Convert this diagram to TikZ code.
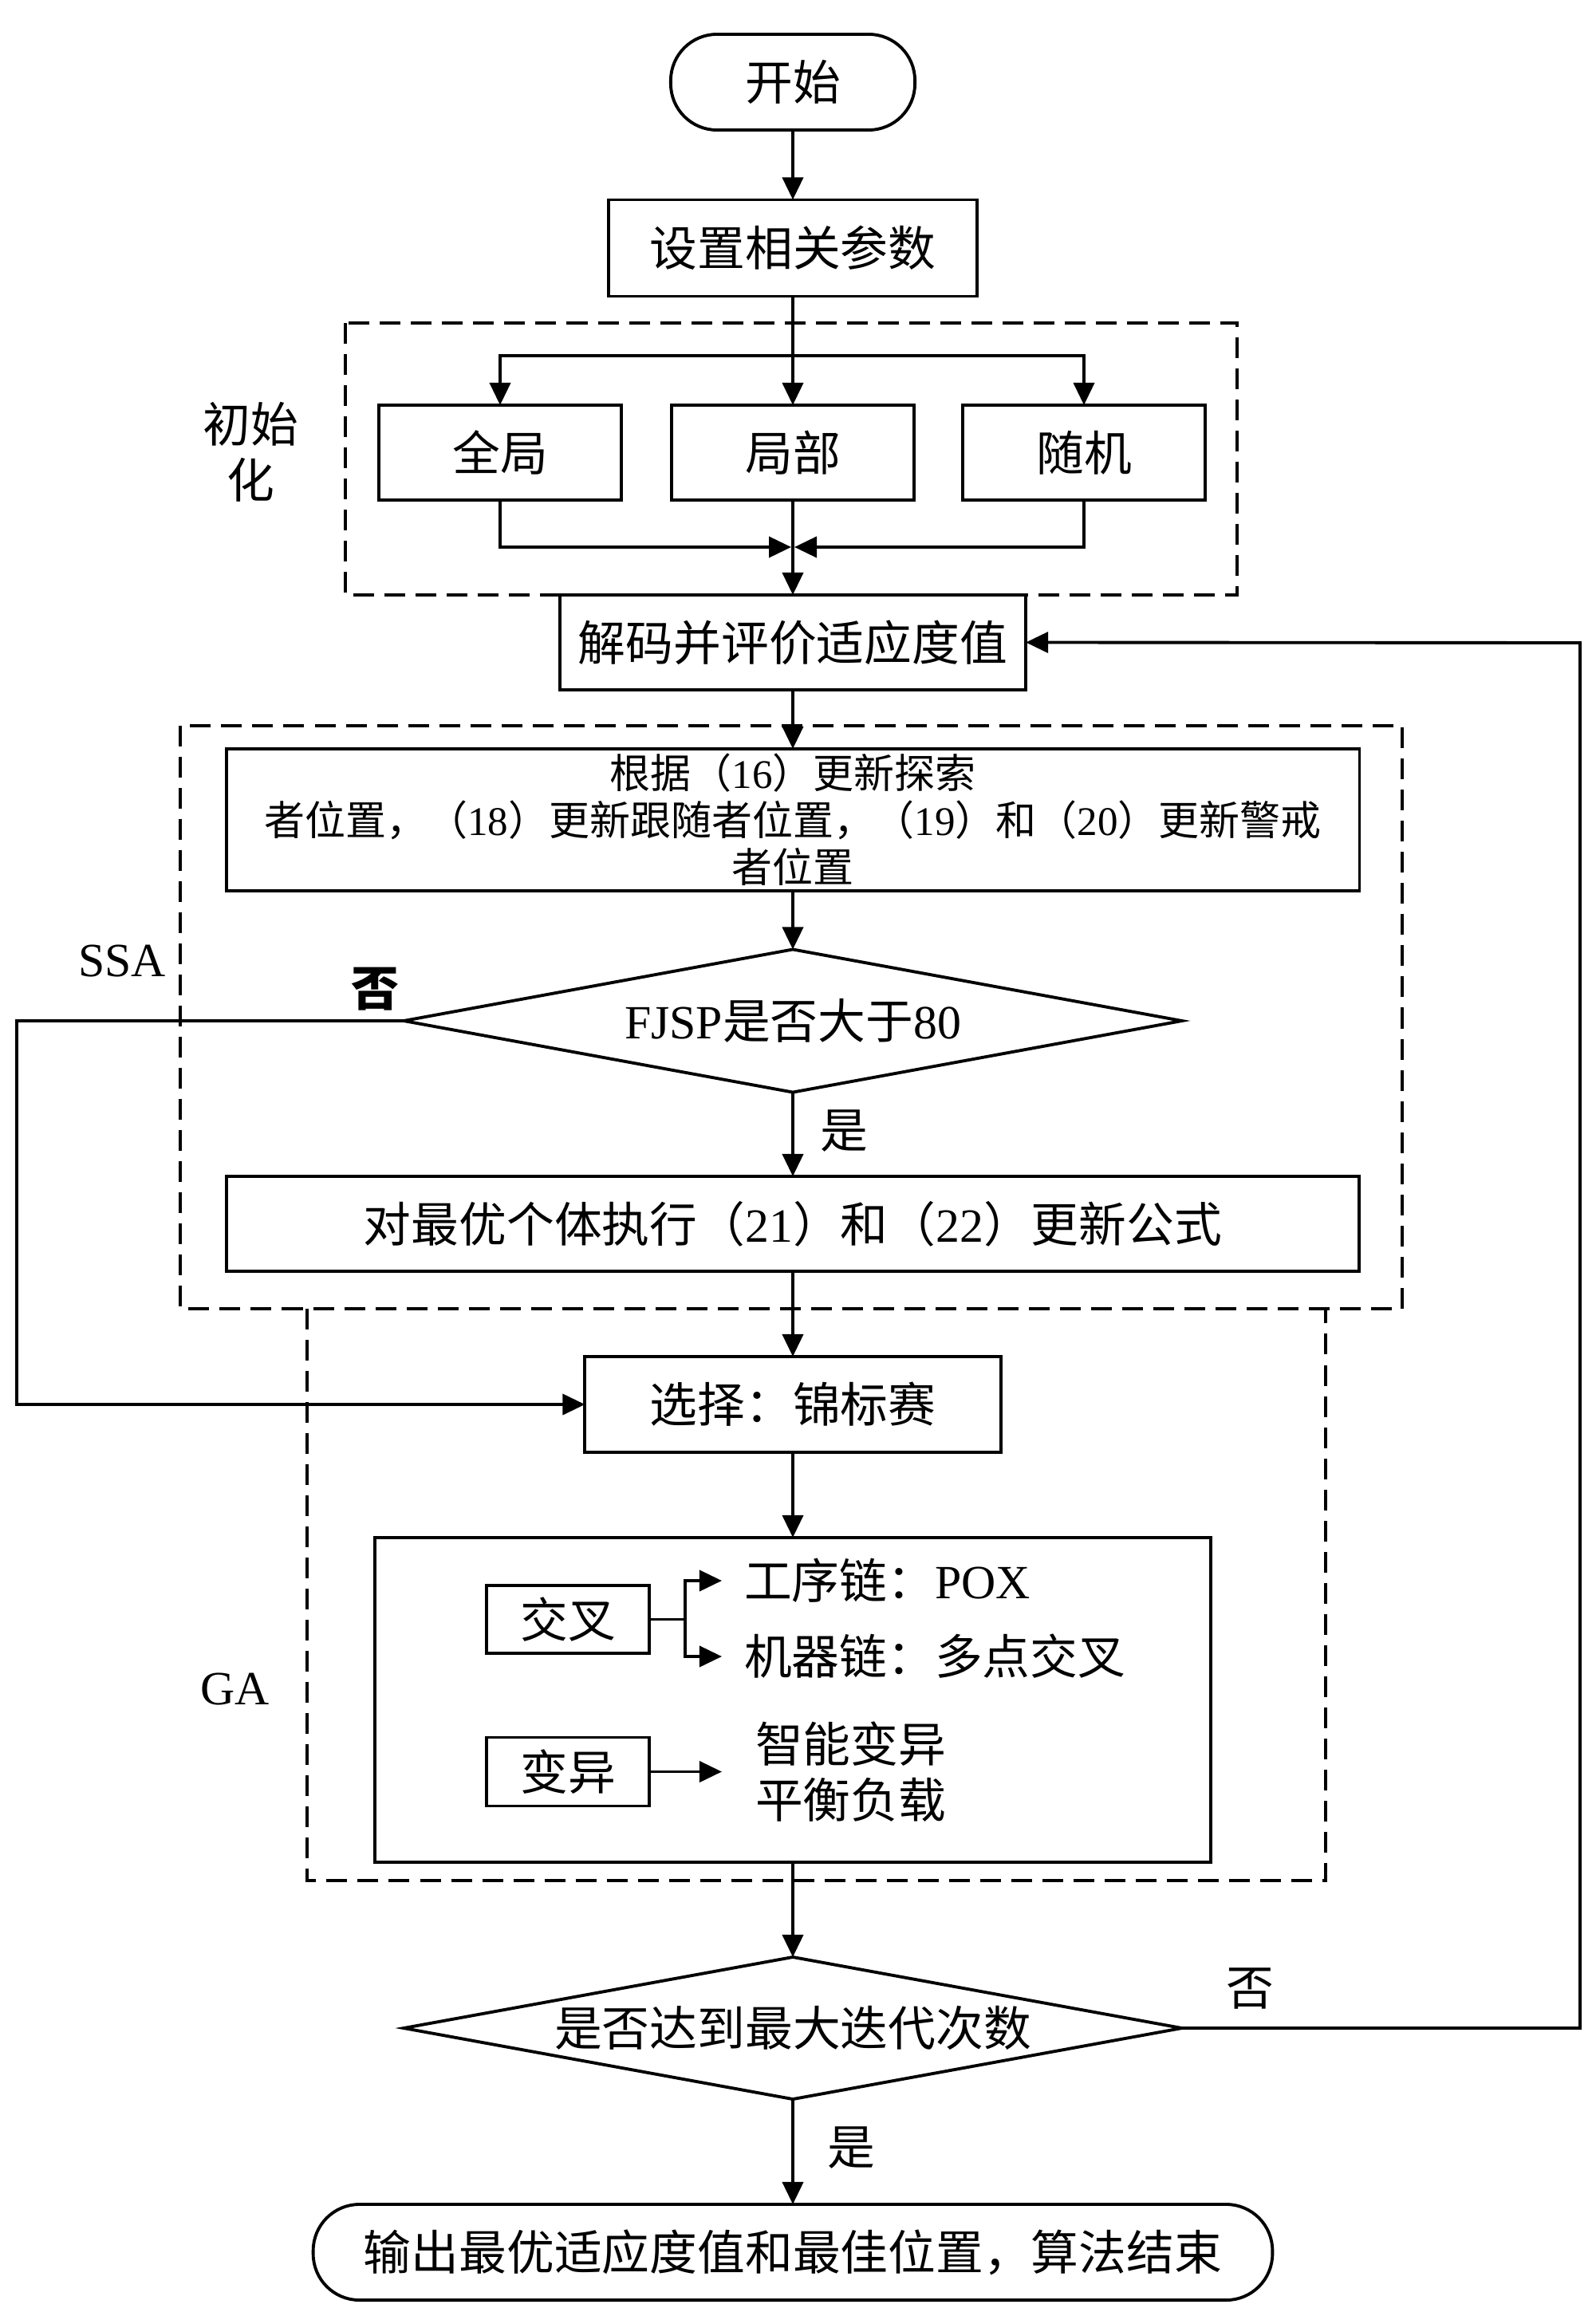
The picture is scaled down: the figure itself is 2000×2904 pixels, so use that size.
\documentclass[tikz,border=0pt]{standalone}
\usepackage{fontspec}
\setmainfont{Noto Sans CJK SC}
\newfontfamily\lat{Liberation Serif}
\usetikzlibrary{arrows.meta,shapes.geometric}
\begin{document}
\begin{tikzpicture}[x=0.01cm,y=-0.01cm,
  every node/.style={font=\fontsize{17pt}{19.9pt}\selectfont, inner sep=0pt, outer sep=0pt},
  box/.style={draw, line width=1.1pt, rectangle, fill=white},
  term/.style={box, rounded corners=0.58cm},
  dia/.style={draw, line width=1.1pt, diamond, shape aspect=5.45, fill=white},
  arr/.style={line width=1.1pt, -{Triangle[length=0.28cm,width=0.26cm]}},
  ln/.style={line width=1.1pt},
  grp/.style={line width=1pt, dash pattern=on 0.26cm off 0.13cm},
  lbl/.style={},
]
\useasboundingbox (0,0) rectangle (2000,2904);

% groups
\draw[grp] (433,405) rectangle (1551,746);
\draw[grp] (226,910) rectangle (1758,1641);
\draw[grp] (385,1641) -- (385,2358) -- (1662,2358) -- (1662,1641);

% nodes
\node[term, minimum width=3.06cm, minimum height=1.2cm] (start) at (994,103) {开始};
\node[box, minimum width=4.62cm, minimum height=1.21cm] (set) at (994,311) {设置相关参数};
\node[lbl, align=center] (initlbl) at (314,567) {初始\\化};
\node[box, minimum width=3.04cm, minimum height=1.19cm] (quan) at (627,567.5) {全局};
\node[box, minimum width=3.04cm, minimum height=1.19cm] (jubu) at (994,567.5) {局部};
\node[box, minimum width=3.04cm, minimum height=1.19cm] (suiji) at (1359,567.5) {随机};
\node[box, minimum width=5.84cm, minimum height=1.19cm] (jiema) at (994,805.5) {解码并评价适应度值};

\node[lbl] (ssalbl) at (153,1205) {\lat SSA};
\node[box, minimum width=14.2cm, minimum height=1.78cm, align=center,
      font=\fontsize{14.5pt}{16.8pt}\selectfont] (genju) at (994,1028)
  {根据（{\lat 16}）更新探索\\者位置，（{\lat 18}）更新跟随者位置，（{\lat 19}）和（{\lat 20}）更新警戒\\者位置};
\node[dia, minimum width=9.75cm, minimum height=1.79cm] (d1) at (994,1280) {{\lat FJSP}是否大于{\lat 80}};
\node[lbl] (no1) at (470,1240) {\bfseries 否};
\node[lbl] (yes1) at (1058,1418) {是};
\node[box, minimum width=14.19cm, minimum height=1.19cm] (duizuiyou) at (994,1534.5)
  {对最优个体执行（{\lat 21}）和（{\lat 22}）更新公式};

\node[lbl] (galbl) at (295,2118) {\lat GA};
\node[box, minimum width=5.21cm, minimum height=1.2cm] (xuanze) at (994,1761) {选择：锦标赛};
\node[box, minimum width=10.48cm, minimum height=4.07cm] (big) at (994,2131.5) {};
\node[box, minimum width=2.04cm, minimum height=0.85cm] (jiaocha) at (712,2030.5) {交叉};
\node[box, minimum width=2.04cm, minimum height=0.86cm] (bianyi) at (712,2221.5) {变异};
\node[anchor=west, inner xsep=0.28cm] (gongxu) at (905,1982) {工序链：{\lat POX}};
\node[anchor=west, inner xsep=0.28cm] (jiqi) at (905,2077) {机器链：多点交叉};
\node[anchor=west, inner xsep=0.42cm, align=center] (zhineng) at (905,2221.5) {智能变异\\平衡负载};

\node[dia, minimum width=9.75cm, minimum height=1.78cm] (d2) at (994,2543) {是否达到最大迭代次数};
\node[lbl] (no2) at (1567,2493) {否};
\node[lbl] (yes2) at (1067,2693) {是};
\node[term, minimum width=12.02cm, minimum height=1.2cm] (end) at (994,2824)
  {输出最优适应度值和最佳位置，算法结束};

% coordinates
\coordinate (br) at (994,446);
\coordinate (mgl) at (992,686);
\coordinate (mgr) at (996,686);
\coordinate (lb) at (21,1761);
\coordinate (fk) at (859,2030.5);
\coordinate (rl) at (1981,806);

% connectors
\draw[arr] (start.south) -- (set.north);
\draw[arr] (set.south) -- (jubu.north);
\draw[arr] (br) -| (quan.north);
\draw[arr] (br) -| (suiji.north);
\draw[arr] (quan.south) |- (mgl);
\draw[arr] (suiji.south) |- (mgr);
\draw[arr] (jubu.south) -- (jiema.north);
\draw[arr] (jiema.south) -- (genju.north);
\draw[arr] (genju.south) -- (d1.north);
\draw[arr] (d1.south) -- (duizuiyou.north);
\draw[arr] (d1.west) -| (lb) -- (xuanze.west);
\draw[arr] (duizuiyou.south) -- (xuanze.north);
\draw[arr] (xuanze.south) -- (big.north);
\draw[ln] (jiaocha.east) -- (fk);
\draw[arr] (fk) |- (gongxu.west);
\draw[arr] (fk) |- (jiqi.west);
\draw[arr] (bianyi.east) -- (zhineng.west);
\draw[arr] (big.south) -- (d2.north);
\draw[arr] (d2.south) -- (end.north);
\draw[arr] (d2.east) -| (rl) -- (jiema.east);
\end{tikzpicture}
\end{document}
